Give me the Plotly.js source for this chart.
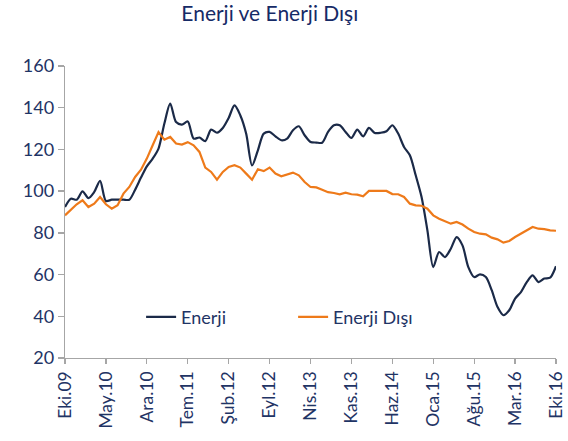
<!DOCTYPE html>
<html>
<head>
<meta charset="utf-8">
<script src="https://cdn.plot.ly/plotly-3.0.1.min.js"></script>
<style>html,body{margin:0;padding:0;background:#fff}#chart{width:568px;height:441px}</style>
</head>
<body>
<div id="chart"></div>
<script>
const tickLabels = ["Eki.09","May.10","Ara.10","Tem.11","Şub.12","Eyl.12","Nis.13","Kas.13","Haz.14","Oca.15","Ağu.15","Mar.16","Eki.16"];
const monthStep = 7;
const enerji = [92.4,96.4,95.9,99.9,96.7,99.6,104.9,95.3,95.9,95.9,95.9,95.9,
  100.7,106.5,111.9,115.6,120.4,132.4,142,133.1,131.9,133.4,
  125.2,125.7,124,129.5,128,130.3,135.1,141.1,136.3,127.5,112.3,119.6,127.6,128.4,126.3,124.4,125.2,129.2,131.1,126.8,123.6,
  123.3,123.2,128.4,131.6,131.6,128.4,125.5,129.5,126.3,130.3,127.9,128,128.7,131.6,127.6,121.2,117.2,107.6,97.2,81.2,
  63.6,70.8,68.4,72.4,78,74,63.6,58.8,60.1,58.8,52.5,44.4,40.5,42.9,48.5,51.6,56.4,59.6,56.4,58.1,58.5,64];
const enerjiDisi = [88.4,91.1,93.7,95.6,92.4,94,97.2,93.7,91.6,93.2,98.8,102,
  106.8,110.3,115.6,122,128.3,124.7,126,122.8,122.3,123.5,
  122,118.8,111.3,109.2,105.5,109.2,111.6,112.4,111.3,108.4,105.5,110.5,109.6,111.3,108.4,107.1,107.9,108.9,107.6,104.4,102,
  101.8,100.7,99.5,99.1,98.5,99.3,98.5,98.3,97.5,100.1,100.2,100.2,100.1,98.6,98.5,97.2,94,93.2,93,91.6,
  88.4,86.8,85.5,84.4,85.2,84,82,80.4,79.6,79.3,77.7,76.9,75.3,76.1,78,79.6,81.2,82.8,82,81.8,81.2,81];

const xs = enerji.map((_, i) => i);
const tickVals = tickLabels.map((_, i) => i * monthStep);
const navy = "#1f3465";
const font = "Lato, 'Open Sans', sans-serif";

const traces = [
  {x: xs, y: enerji, name: "Enerji", type: "scatter", mode: "lines",
   line: {color: "#1b2a48", width: 2.2, shape: "spline", smoothing: 0.8}},
  {x: xs, y: enerjiDisi, name: "Enerji Dışı", type: "scatter", mode: "lines",
   line: {color: "#ee7a1a", width: 2.2}}
];

const layout = {
  width: 568, height: 441,
  margin: {l: 65, r: 12, t: 66, b: 83},
  paper_bgcolor: "#fff", plot_bgcolor: "#fff",
  font: {family: font, color: navy, size: 16},
  title: {text: "Enerji ve Enerji Dışı", x: 0.475, xanchor: "center", y: 0.985, yanchor: "top",
          font: {family: font, size: 21, color: "#162a66"}},
  showlegend: true,
  legend: {orientation: "h", x: 0.155, xanchor: "left", y: 0.14, yanchor: "middle",
           bgcolor: "rgba(0,0,0,0)", font: {family: font, size: 18, color: navy},
           entrywidth: 107, entrywidthmode: "pixels"},
  xaxis: {range: [0, 84], tickmode: "array", tickvals: tickVals, ticktext: tickLabels,
          tickangle: -90, ticks: "outside", ticklen: 5, tickcolor: "#a6a6a6", tickwidth: 1.3,
          showline: true, linecolor: "#a6a6a6", linewidth: 1.3, showgrid: false, zeroline: false,
          tickfont: {family: font, size: 17.5, color: navy}, fixedrange: true},
  yaxis: {range: [20, 160], tickmode: "linear", tick0: 20, dtick: 20,
          ticks: "outside", ticklen: 6, tickcolor: "#a6a6a6", tickwidth: 1.3,
          showline: true, linecolor: "#a6a6a6", linewidth: 1.3, showgrid: false, zeroline: false,
          tickfont: {family: font, size: 18, color: navy}, fixedrange: true}
};

Plotly.newPlot("chart", traces, layout, {displayModeBar: false, staticPlot: true});
</script>
</body>
</html>
